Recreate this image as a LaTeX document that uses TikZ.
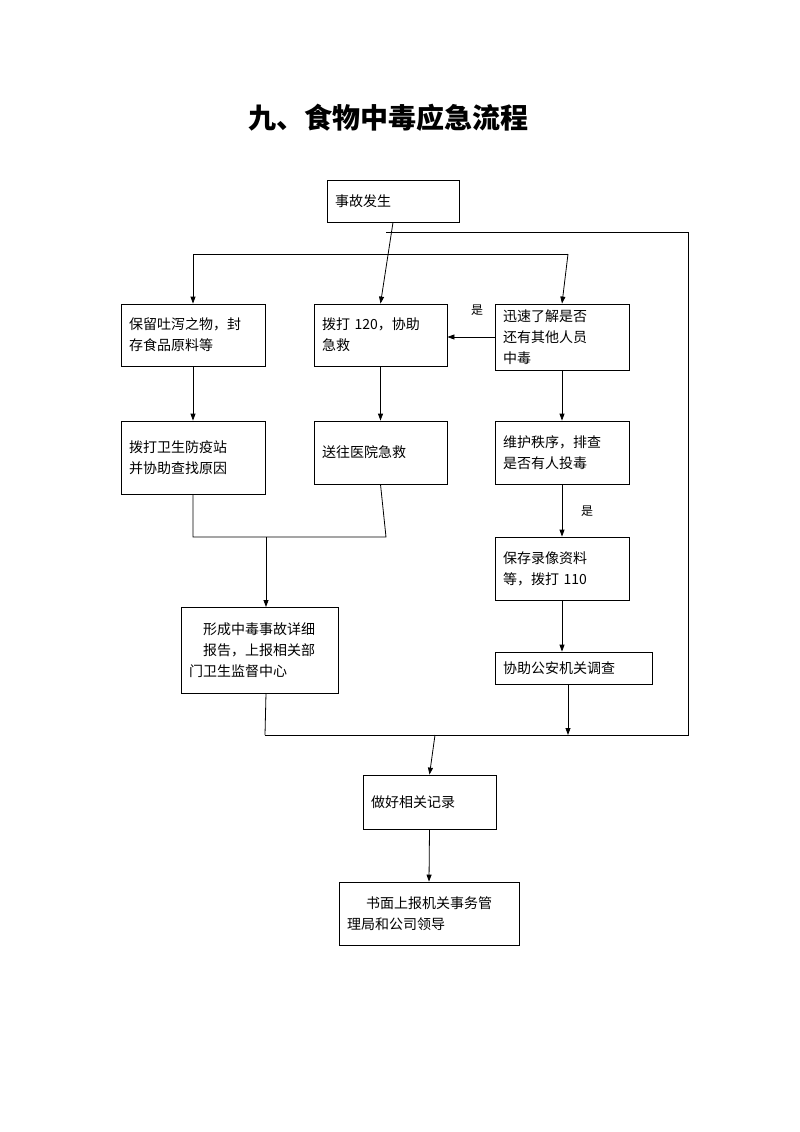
\documentclass[tikz,border=0pt]{standalone}
\usepackage{fontspec}
\setmainfont{Noto Sans CJK SC}
\usetikzlibrary{arrows.meta}
\begin{document}
\begin{tikzpicture}[x=1pt,y=-1pt,
  box/.style={draw,line width=0.8pt,inner sep=0pt,font=\fontsize{14}{21}\selectfont,align=left},
  ar/.style={-{Triangle[length=7pt,width=5pt]},line width=0.8pt},
  ln/.style={line width=0.8pt}]
\useasboundingbox (0,0) rectangle (800,1132);
\node[font=\bfseries\fontsize{28}{32}\selectfont] (title) at (388,118) {九、食物中毒应急流程};
\newcommand{\bx}[6]{\node[box,minimum width=#4-#2,minimum height=#5-#3,text width=#4-#2-16] (#1) at ({(#2+#4)/2},{(#3+#5)/2}) {#6};}
\bx{a}{327}{180}{459}{222}{\centering 事故发生}
\bx{b1}{121}{304}{265}{366}{保留吐泻之物，封\\存食品原料等}
\bx{b2}{314}{304}{447}{366}{拨打 120，协助\\急救}
\bx{b3}{495}{304}{629}{370}{迅速了解是否\\还有其他人员\\中毒}
\bx{c1}{121}{421}{265}{494}{拨打卫生防疫站\\并协助查找原因}
\bx{c2}{314}{421}{447}{484}{送往医院急救\\[16pt]}
\bx{c3}{495}{421}{629}{484}{维护秩序，排查\\是否有人投毒}
\bx{d3}{495}{537}{629}{600}{保存录像资料\\等，拨打 110}
\bx{e3}{495}{652}{652}{684}{协助公安机关调查}
\bx{f}{181}{607}{338}{693}{\quad 形成中毒事故详细\\\quad 报告，上报相关部\\门卫生监督中心}
\bx{g}{363}{775}{496}{829}{\centering 做好相关记录}
\bx{h}{339}{882}{519}{945}{\centering 书面上报机关事务管\\理局和公司领导}
\coordinate (j1) at (386,254);
\coordinate (j0) at (386,232);
\draw[ar] (a.south) -- (b2.north);
\draw[ln] (193,254) -- (568,254);
\draw[ar] (193,254) -- (b1.north);
\draw[ar] (568,254) -- (b3.north);
\draw[ln] (j0) -- (688,232) -- (688,735) -- (265,735);
\draw[ar] (435,735) -- (g.north);
\draw[ar] (g.south) -- (h.north);
\draw[ar] (b3.west) -- (b2.east |- b3.west);
\node[font=\fontsize{12}{14}\selectfont] (y1) at (477,310) {是};
\draw[ar] (b1.south) -- (c1.north);
\draw[ar] (b2.south) -- (c2.north);
\draw[ar] (b3.south) -- (c3.north);
\draw[ar] (c3.south) -- (d3.north);
\node[font=\fontsize{12}{14}\selectfont] (y2) at (587,511) {是};
\draw[ar] (d3.south) -- (e3.north -| d3.south);
\draw[ar] (568,684) -- (568,735);
\draw[ln] (c1.south) -- (193,537) -- (386,537) -- (c2.south);
\draw[ar] (266,537) -- (266,607);
\draw[ln] (266,693) -- (265,735);
\end{tikzpicture}
\end{document}
